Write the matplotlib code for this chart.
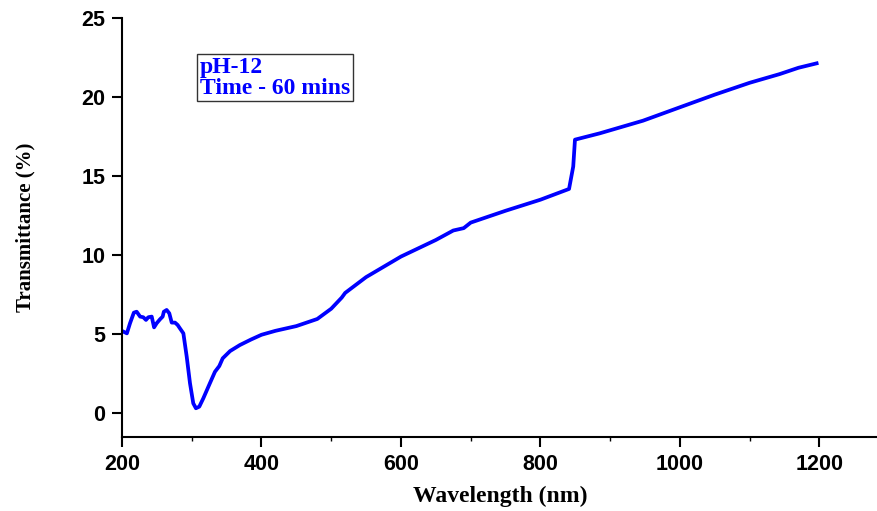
import matplotlib
matplotlib.use("Agg")
import matplotlib.pyplot as plt
from matplotlib.ticker import MultipleLocator

wavelength = [202, 207, 211.5, 217, 221, 226, 230.5, 234.4, 237.7, 242.6, 246, 249.7,
              254.5, 258.3, 260, 264, 267.8, 271.3, 276, 279.8, 283, 288, 292.8, 297.5,
              302.2, 306, 310.8, 316.6, 326, 333.3, 339.5, 344.4, 355, 369, 385, 400,
              420, 450, 480, 500, 515, 520, 550, 600, 650, 675, 690, 700, 750, 800,
              841, 847, 849.5, 885, 947, 1000, 1050, 1100, 1143, 1170, 1196]
transmittance = [5.15, 5.04, 5.68, 6.35, 6.41, 6.1, 6.06, 5.89, 6.06, 6.1, 5.42, 5.68,
                 5.93, 6.1, 6.41, 6.52, 6.31, 5.72, 5.72, 5.57, 5.36, 5.04, 3.56, 1.88,
                 0.61, 0.30, 0.40, 0.93, 1.88, 2.61, 2.97, 3.46, 3.92, 4.30, 4.65, 4.95,
                 5.2, 5.5, 5.95, 6.6, 7.3, 7.6, 8.6, 9.9, 10.95, 11.55, 11.7, 12.05, 12.8, 13.5,
                 14.18, 15.6, 17.3, 17.7, 18.5, 19.35, 20.15, 20.9, 21.45, 21.85, 22.13]

x_ticks = [200, 400, 600, 800, 1000, 1200]
y_ticks = [0, 5, 10, 15, 20, 25]
legend_lines = ["pH-12", "Time - 60 mins"]

fig = plt.figure(figsize=(8.78, 5.11), dpi=100)
ax = fig.add_axes([122/878, 1-437/511, 1-122/878, (437-18)/511])
ax.plot(wavelength, transmittance, color="#0000ff", lw=2.7, solid_joinstyle="round")
ax.set_xlim(200, 1284)
ax.set_ylim(-1.52, 25)
ax.set_xticks(x_ticks)
ax.set_yticks(y_ticks)
ax.xaxis.set_minor_locator(MultipleLocator(100))
for s in ["top", "right"]:
    ax.spines[s].set_visible(False)
for s in ["left", "bottom"]:
    ax.spines[s].set_linewidth(1.5)
ax.tick_params(axis="both", which="major", direction="out", length=7, width=1.5, pad=5)
ax.tick_params(axis="x", which="minor", direction="out", length=3, width=1.0)
for lab in ax.get_xticklabels() + ax.get_yticklabels():
    lab.set_fontfamily("Liberation Sans")
    lab.set_fontweight("bold")
    lab.set_fontsize(15.5)
ax.set_xlabel("Wavelength (nm)", fontfamily="Liberation Serif", fontweight="bold",
              fontsize=17)
ax.set_ylabel("Transmittance (%)", fontfamily="Liberation Serif", fontweight="bold",
              fontsize=15)
ax.xaxis.set_label_coords(0.5, (437-486)/419)
ax.yaxis.set_label_coords((35-122)/756, 0.5)
ax.text(0.103, 0.908, "\n".join(legend_lines), transform=ax.transAxes,
        fontfamily="Liberation Serif", fontweight="bold", fontsize=17, color="#0000ff",
        va="top", ha="left", linespacing=1.0,
        bbox=dict(boxstyle="square,pad=0.12", fc="white", ec="#333333", lw=1.0))
fig.savefig("out.png", dpi=100)
